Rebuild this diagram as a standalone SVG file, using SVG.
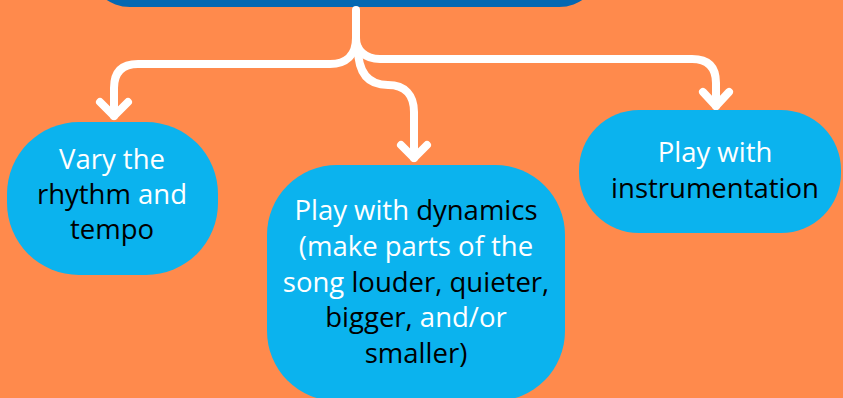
<svg xmlns="http://www.w3.org/2000/svg" width="843" height="398" viewBox="0 0 843 398">
<style>
.bg{fill:#FF8A4C}
.node{fill:#0BB3EE}
.top{fill:#0468B2}
.conn{fill:none;stroke:#FFFFFF;stroke-width:8;stroke-linecap:round;stroke-linejoin:round}
.t{font-family:"Open Sans",Lato,"Liberation Sans",sans-serif;font-size:27.5px;text-anchor:middle;fill:#FFFFFF}
.k{fill:#000000}
</style>
<rect class="bg" x="0" y="0" width="843" height="398"/>
<g id="top-node">
<rect class="top" x="92" y="-60" width="505" height="67" rx="38"/>
</g>
<g id="connectors">
<path class="conn" d="M356,10 V40"/>
<path class="conn" d="M356,38 C356,55 346,64 330,64 H138 Q114,64 114,88 V116"/>
<path class="conn" d="M100,102 L114,116 L128,102"/>
<path class="conn" d="M356,38 C356,50 365,59 380,59 H692 Q716,59 716,83 V106"/>
<path class="conn" d="M703,92 L716,106 L729,92"/>
<path class="conn" d="M358,48 C358,75 370,85 388,85 C405,85 414,95 414,112 V158"/>
<path class="conn" d="M401,145 L414,158 L427,145"/>
</g>
<g id="node-rhythm">
<rect class="node" x="7" y="122" width="211" height="153" rx="72"/>
<text class="t" x="112" y="169">Vary the</text>
<text class="t" x="112" y="204"><tspan class="k">rhythm</tspan> and</text>
<text class="t k" x="112" y="239">tempo</text>
</g>
<g id="node-dynamics">
<rect class="node" x="267" y="165" width="298" height="236" rx="70"/>
<text class="t" x="416" y="220">Play with <tspan class="k">dynamics</tspan></text>
<text class="t" x="416" y="256">(make parts of the</text>
<text class="t" x="416" y="292">song <tspan class="k">louder, quieter,</tspan></text>
<text class="t" x="416" y="327"><tspan class="k">bigger,</tspan> and/or</text>
<text class="t k" x="416" y="363">smaller)</text>
</g>
<g id="node-instrumentation">
<rect class="node" x="579" y="110" width="262" height="123" rx="60"/>
<text class="t" x="715" y="162">Play with</text>
<text class="t k" x="715" y="198">instrumentation</text>
</g>
</svg>
